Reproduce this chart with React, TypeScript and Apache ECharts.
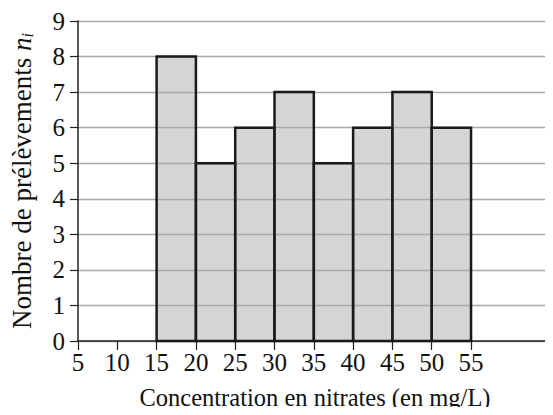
import React, { useEffect, useRef } from "react";
import * as echarts from "echarts";

const classStarts = [15, 20, 25, 30, 35, 40, 45, 50];
const classWidth = 5;
const counts = [8, 5, 6, 7, 5, 6, 7, 6];
const xTicks = [5, 10, 15, 20, 25, 30, 35, 40, 45, 50, 55];
const yTicks = [0, 1, 2, 3, 4, 5, 6, 7, 8, 9];

const FONT = "'Liberation Serif', 'DejaVu Serif', serif";

export default function App() {
  const ref = useRef<HTMLDivElement>(null);
  useEffect(() => {
    if (!ref.current) return;
    const chart = echarts.init(ref.current, null, { renderer: "svg" });
    const data = classStarts.map((s, i) => [s, s + classWidth, counts[i]]);
    chart.setOption({
      animation: false,
      backgroundColor: "#ffffff",
      grid: { left: 77, right: 1, top: 21, bottom: 72, containLabel: false },
      xAxis: {
        type: "value",
        min: 5,
        max: 65.3,
        name: "Concentration en nitrates (en mg/L)",
        nameLocation: "middle",
        nameGap: 44,
        nameTextStyle: { fontFamily: FONT, fontSize: 24.5, color: "#111" },
        axisLine: { show: true, lineStyle: { color: "#222", width: 1.5 } },
        axisTick: {
          show: true,
          customValues: xTicks,
          length: 9,
          lineStyle: { color: "#222", width: 1.2 },
        },
        axisLabel: {
          customValues: xTicks,
          margin: 9,
          fontFamily: FONT,
          fontSize: 25,
          color: "#111",
        },
        splitLine: { show: false },
      },
      yAxis: {
        type: "value",
        min: 0,
        max: 9,
        interval: 1,
        name: "{t|Nombre de prélèvements }{n|n}{i|i}",
        nameLocation: "middle",
        nameRotate: 90,
        nameGap: 43,
        nameTextStyle: {
          fontFamily: FONT,
          fontSize: 27,
          color: "#111",
          rich: {
            t: { fontFamily: FONT, fontSize: 27, color: "#111" },
            n: { fontFamily: FONT, fontSize: 27, fontStyle: "italic", color: "#111" },
            i: {
              fontFamily: FONT,
              fontSize: 16,
              fontStyle: "italic",
              color: "#111",
              verticalAlign: "bottom",
              padding: [11, 0, 0, 0],
            },
          },
        },
        axisLine: { show: true, lineStyle: { color: "#222", width: 1.5 } },
        axisTick: { show: true, length: 8, lineStyle: { color: "#222", width: 1.2 } },
        axisLabel: {
          margin: 13,
          fontFamily: FONT,
          fontSize: 25,
          color: "#111",
          formatter: (v: number) => (yTicks.includes(v) ? String(v) : ""),
        },
        splitLine: { show: true, lineStyle: { color: "#a8a8a8", width: 1.3 } },
      },
      series: [
        {
          type: "custom",
          data,
          encode: { x: [0, 1], y: 2 },
          renderItem: (params: any, api: any) => {
            const x0 = api.value(0);
            const x1 = api.value(1);
            const y = api.value(2);
            const p0 = api.coord([x0, 0]);
            const p1 = api.coord([x1, y]);
            return {
              type: "rect",
              shape: { x: p0[0], y: p1[1], width: p1[0] - p0[0], height: p0[1] - p1[1] },
              style: { fill: "rgba(170,174,172,0.5)", stroke: "#1a1a1a", lineWidth: 2.5 },
            };
          },
        },
      ],
    });
    return () => chart.dispose();
  }, []);
  return <div ref={ref} style={{ width: 553, height: 415, margin: -8 }} />;
}
